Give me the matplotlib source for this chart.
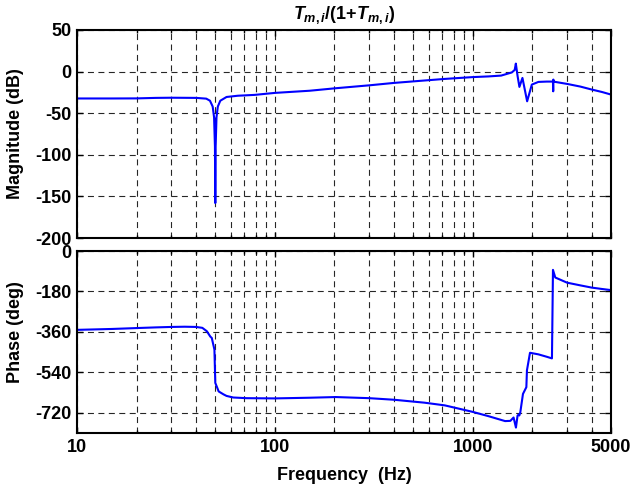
import matplotlib
matplotlib.use("Agg")
import matplotlib.pyplot as plt
from matplotlib.ticker import FixedLocator, NullFormatter

plt.rcParams['font.family'] = ['Liberation Sans', 'DejaVu Sans']
plt.rcParams['font.weight'] = 'bold'
plt.rcParams['mathtext.fontset'] = 'custom'
plt.rcParams['mathtext.it'] = 'Liberation Sans:bold:italic'
plt.rcParams['mathtext.rm'] = 'Liberation Sans:bold'
plt.rcParams['mathtext.bf'] = 'Liberation Sans:bold'

# ---- data ----
mag_freq = [10, 15, 20, 25, 30, 40, 45, 47, 48.5, 49.3, 49.8, 50, 50.2, 50.7,
            51.5, 53, 57, 65, 79, 100, 150, 203, 300, 400, 550, 722, 1000,
            1200, 1392, 1577, 1630, 1652, 1685, 1722, 1784, 1884, 1990, 2148,
            2370, 2545, 2552, 2556, 2562, 2600, 3000, 3500, 4000, 4500, 5000]
mag_db = [-32.3, -32.3, -32.2, -31.6, -31.4, -31.6, -32.5, -35, -42, -55, -90,
          -158, -90, -55, -42, -35, -30.5, -29, -28, -25.6, -23, -20, -16.5,
          -13.6, -11, -8.8, -6.6, -5.8, -4.8, -1, 2, 9.6, -5, -18.4, -7.6,
          -35.7, -15.6, -12.4, -12, -12, -23.7, -9.6, -12.5, -12.3, -14.8,
          -18, -21.6, -24.5, -27.6]

ph_freq = [10, 15, 20, 25, 30, 35, 40, 43, 45.3, 47.2, 48, 49.5, 50, 50.9, 52,
           55, 57, 61.6, 72, 100, 150, 203, 300, 400, 570, 722, 1000, 1200,
           1458, 1550, 1609, 1654, 1685, 1705, 1720, 1740, 1795, 1867, 1880,
           1948, 2148, 2373, 2515, 2545, 2614, 3000, 3500, 4000, 4500, 5000]
ph_deg = [-351, -347, -343, -340, -338, -337, -338, -342, -357, -381, -387,
          -439, -587, -604, -625, -638, -645, -652, -655, -656, -653, -650,
          -655, -662, -675, -687, -716, -735, -757, -756, -741, -786, -733,
          -728, -732, -718, -636, -606, -531, -453, -460, -471, -478, -84,
          -118, -141, -153, -163, -169, -174]

x_major = [10, 100, 1000, 5000]
x_major_labels = ['10', '100', '1000', '5000']
x_minor = [20, 30, 40, 50, 60, 70, 80, 90, 200, 300, 400, 500, 600, 700, 800,
           900, 2000, 3000, 4000]
mag_ticks = [50, 0, -50, -100, -150, -200]
ph_ticks = [0, -180, -360, -540, -720]

title_text = r'$T_{m,i}$/(1+$T_{m,i}$)'
mag_label = 'Magnitude (dB)'
ph_label = 'Phase (deg)'
x_label = 'Frequency  (Hz)'

W, H = 634, 492
fig = plt.figure(figsize=(W / 100, H / 100), dpi=100)
L, R = 77, 611
ax1 = fig.add_axes([L / W, 1 - 238 / H, (R - L) / W, 208 / H])
ax2 = fig.add_axes([L / W, 1 - 433 / H, (R - L) / W, 182 / H])

grid_kw = dict(color='0.15', linewidth=0.8, linestyle=(0, (5.4, 4)))
for ax in (ax1, ax2):
    ax.set_xscale('log')
    ax.set_xlim(10, 5000)
    ax.xaxis.set_major_locator(FixedLocator(x_major))
    ax.xaxis.set_minor_locator(FixedLocator(x_minor))
    ax.xaxis.set_minor_formatter(NullFormatter())
    ax.grid(True, which='major', axis='both', **grid_kw)
    ax.grid(True, which='minor', axis='x', **grid_kw)
    ax.tick_params(which='both', direction='in', top=True, right=True,
                   labelsize=13, width=1.0, pad=4)
    ax.tick_params(which='major', length=4)
    ax.tick_params(which='minor', length=2.5)
    for s in ax.spines.values():
        s.set_linewidth(1.5)
    ax.set_axisbelow(True)

ax1.plot(mag_freq, mag_db, color='#0000ff', linewidth=1.5)
ax1.set_ylim(-200, 50)
ax1.set_yticks(mag_ticks)
ax1.set_yticklabels([str(v) for v in mag_ticks])
ax1.set_xticklabels([])
ax1.set_ylabel(mag_label, fontsize=13, fontweight='bold')
ax1.yaxis.set_label_coords(-0.116, 0.5)
ax1.yaxis.label.set_verticalalignment('center')
ax1.set_title(title_text, fontsize=13, fontweight='bold', pad=8)

ax2.plot(ph_freq, ph_deg, color='#0000ff', linewidth=1.5)
ax2.set_ylim(-810, 0)
ax2.set_yticks(ph_ticks)
ax2.set_yticklabels([str(v) for v in ph_ticks])
ax2.set_xticks(x_major)
ax2.set_xticklabels(x_major_labels)
ax2.set_ylabel(ph_label, fontsize=13, fontweight='bold')
ax2.yaxis.set_label_coords(-0.116, 0.555)
ax2.yaxis.label.set_verticalalignment('center')
ax2.set_xlabel(x_label, fontsize=13, fontweight='bold')
ax2.xaxis.set_label_coords(0.5, -0.185)
ax2.xaxis.label.set_verticalalignment('top')

fig.savefig('out.png', dpi=100)
